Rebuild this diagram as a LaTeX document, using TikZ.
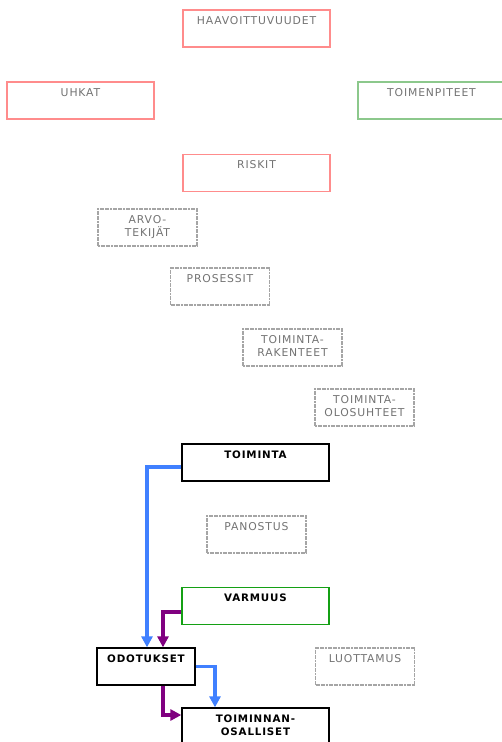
\documentclass[tikz,border=0pt]{standalone}
\usepackage{fontspec}
\setmainfont{DejaVu Sans}[LetterSpace=8]
\usetikzlibrary{arrows.meta}
\definecolor{fadered}{RGB}{255,140,140}
\definecolor{fadegreen}{RGB}{140,200,140}
\definecolor{varmgreen}{RGB}{20,160,20}
\definecolor{fadegray}{RGB}{165,165,165}
\definecolor{txtgray}{RGB}{115,115,115}
\definecolor{arrblue}{RGB}{64,128,255}
\definecolor{arrpurple}{RGB}{128,0,128}
\tikzset{
  box/.style={rectangle, inner sep=0pt, line width=1.3pt},
  redbox/.style={box, draw=fadered, minimum width=147pt, minimum height=37pt},
  greenbox/.style={box, draw=fadegreen, minimum width=147pt, minimum height=37pt},
  graybox/.style={box, draw=fadegray, dash pattern=on 2pt off 0.6pt, minimum width=99pt, minimum height=37pt},
  blackbox/.style={box, draw=black, minimum height=37pt},
  vgreenbox/.style={box, draw=varmgreen, minimum width=147pt, minimum height=37pt},
  lbl/.style={anchor=base, inner sep=0pt, align=center, font=\fontsize{10.8}{13}\selectfont, text=txtgray},
  blbl/.style={anchor=base, inner sep=0pt, align=center, font=\fontsize{10.3}{13}\selectfont\bfseries, text=black},
  arr/.style={line width=3.5pt, -{Triangle[length=11pt,width=11pt]}},
}
\begin{document}
\begin{tikzpicture}[x=1pt,y=-1pt]
\useasboundingbox[fill=white] (0,0) rectangle (501,742);
% boxes
\node[redbox] (haav) at (256.5,28.5) {};
\node[redbox] (uhkat) at (80.5,100.5) {};
\node[greenbox] (toimp) at (431.5,100.5) {};
\node[redbox] (riskit) at (256.5,173) {};
\node[graybox] (arvo) at (147.5,227.5) {};
\node[graybox] (pros) at (220,286.5) {};
\node[graybox] (trak) at (292.5,347.5) {};
\node[graybox] (tolo) at (364.5,407.5) {};
\node[blackbox, minimum width=147pt] (toim) at (255.5,462.5) {};
\node[graybox] (pan) at (256.5,534.5) {};
\node[vgreenbox] (varm) at (255.5,606) {};
\node[blackbox, minimum width=98pt] (odot) at (146,666.5) {};
\node[graybox] (luot) at (365,666.5) {};
\node[blackbox, minimum width=147pt] (osal) at (255.5,726.5) {};
% labels
\node[lbl] (haavt) at ([yshift=-15pt]haav.north) {HAAVOITTUVUUDET};
\node[lbl] (uhkatt) at ([yshift=-15pt]uhkat.north) {UHKAT};
\node[lbl] (toimpt) at ([yshift=-15pt]toimp.north) {TOIMENPITEET};
\node[lbl] (riskitt) at ([yshift=-15pt]riskit.north) {RISKIT};
\node[lbl] (arvot) at ([yshift=-28pt]arvo.north) {ARVO-\\TEKIJÄT};
\node[lbl] (prost) at ([yshift=-15pt]pros.north) {PROSESSIT};
\node[lbl] (trakt) at ([yshift=-28pt]trak.north) {TOIMINTA-\\RAKENTEET};
\node[lbl] (tolot) at ([yshift=-28pt]tolo.north) {TOIMINTA-\\OLOSUHTEET};
\node[blbl] (toimt) at ([yshift=-15pt]toim.north) {TOIMINTA};
\node[lbl] (pant) at ([yshift=-15pt]pan.north) {PANOSTUS};
\node[blbl] (varmt) at ([yshift=-15pt]varm.north) {VARMUUS};
\node[blbl] (odott) at ([yshift=-15pt]odot.north) {ODOTUKSET};
\node[lbl] (luott) at ([yshift=-15pt]luot.north) {LUOTTAMUS};
\node[blbl] (osalt) at ([yshift=-28pt]osal.north) {TOIMINNAN-\\OSALLISET};
% connectors
\draw[arr, draw=arrblue] ([yshift=-4.5pt]toim.west) -| ([xshift=1pt]odot.north);
\draw[arr, draw=arrpurple] ([yshift=-6pt]varm.west) -| ([xshift=17pt]odot.north);
\draw[arr, draw=arrblue] (odot.east) -| ([xshift=-40.5pt]osal.north);
\draw[arr, draw=arrpurple] ([xshift=17pt]odot.south) |- ([yshift=11.5pt]osal.west);
\end{tikzpicture}
\end{document}
